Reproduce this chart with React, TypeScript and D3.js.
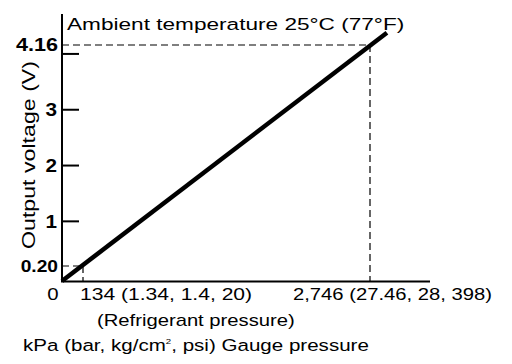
import React from "react";
import * as d3 from "d3";

const lineKPa = [0, 2900];
const lineVolts = [0, 4.38];
const voltTicks = [1, 2, 3, 4];
const voltTickLabels = ["1", "2", "3", ""];
const markKPa = [134, 2746];
const markVolts = [0.2, 4.16];
const markVoltLabels = ["0.20", "4.16"];
const xLabels = ["0", "134 (1.34, 1.4, 20)", "2,746 (27.46, 28, 398)"];
const title = "Ambient temperature 25°C (77°F)";
const yTitle = "Output voltage (V)";
const xTitle1 = "(Refrigerant pressure)";

const W = 512;
const H = 364;
const FONT = "'Liberation Sans', Arial, Helvetica, sans-serif";

type STProps = {
  x: number;
  y: number;
  sx?: number;
  rotate?: number;
  anchor?: "start" | "middle" | "end";
  size?: number;
  bold?: boolean;
  dy?: string;
  children: React.ReactNode;
};

function SText({ x, y, sx = 1.2, rotate = 0, anchor = "start", size = 17, bold = false, dy, children }: STProps) {
  return (
    <text
      transform={`translate(${x},${y}) rotate(${rotate}) scale(${sx},1)`}
      textAnchor={anchor}
      fontSize={size}
      fontWeight={bold ? "bold" : "normal"}
      dy={dy}
    >
      {children}
    </text>
  );
}

export default function App() {
  const x = d3.scaleLinear().domain([0, markKPa[0], markKPa[1]]).range([62, 83, 370]);
  const y = d3.scaleLinear().domain([0, markVolts[0], markVolts[1]]).range([281, 266, 45]);
  const x0 = x(0);
  const y0 = y(0);
  const line = d3
    .line<number>()
    .x((d) => x(lineKPa[d]))
    .y((d) => y(lineVolts[d]));

  return (
    <svg
      width={W}
      height={H}
      style={{ position: "absolute", left: 0, top: 0, background: "#fff" }}
      fontFamily={FONT}
    >
      <rect width={W} height={H} fill="#fff" />
      {/* dashed guides */}
      {markKPa.map((k, i) => (
        <g key={"g" + i} stroke="#000" strokeWidth={1.2} strokeDasharray="7,4" fill="none">
          <line x1={x0} x2={x(k)} y1={y(markVolts[i])} y2={y(markVolts[i])} />
          <line x1={x(k)} x2={x(k)} y1={y(markVolts[i])} y2={y0} />
        </g>
      ))}
      {/* axes */}
      <line x1={x0} x2={x0} y1={14} y2={y0 + 1} stroke="#000" strokeWidth={2} />
      <line x1={x0 - 1} x2={430} y1={y0 + 0.5} y2={y0 + 0.5} stroke="#000" strokeWidth={2} />
      {voltTicks.map((v, i) => (
        <g key={"t" + i}>
          <line x1={x0} x2={x0 + 17} y1={y(v)} y2={y(v)} stroke="#000" strokeWidth={2} />
          <SText x={x0 - 5} y={y(v)} dy="0.36em" anchor="end" size={18} bold sx={1.15}>
            {voltTickLabels[i]}
          </SText>
        </g>
      ))}
      {markVolts.map((v, i) => (
        <SText
          key={"m" + i}
          x={x0 - 4}
          y={y(v)}
          dy="0.36em"
          anchor="end"
          size={i === 0 ? 16 : 18}
          bold
          sx={1.2}
        >
          {markVoltLabels[i]}
        </SText>
      ))}
      {/* data line */}
      <path d={line([0, 1]) || ""} stroke="#000" strokeWidth={4.5} fill="none" />
      {/* x labels */}
      <SText x={x0 - 9} y={300} anchor="middle">
        {xLabels[0]}
      </SText>
      <SText x={x(markKPa[0]) - 3} y={300} sx={1.24}>
        {xLabels[1]}
      </SText>
      <SText x={x(markKPa[1]) - 77} y={300} sx={1.19}>
        {xLabels[2]}
      </SText>
      <SText x={97} y={326} sx={1.19}>
        {xTitle1}
      </SText>
      <text transform={`translate(23,351) scale(1.21,1)`} fontSize={17}>
        kPa (bar, kg/cm
        <tspan fontSize={8} dy={-7}>
          2
        </tspan>
        <tspan dy={7}>, psi) Gauge pressure</tspan>
      </text>
      {/* title */}
      <SText x={67} y={29.5} sx={1.33}>
        {title}
      </SText>
      {/* y title */}
      <SText x={35} y={155} rotate={-90} anchor="middle" size={19} sx={1.22}>
        {yTitle}
      </SText>
    </svg>
  );
}
